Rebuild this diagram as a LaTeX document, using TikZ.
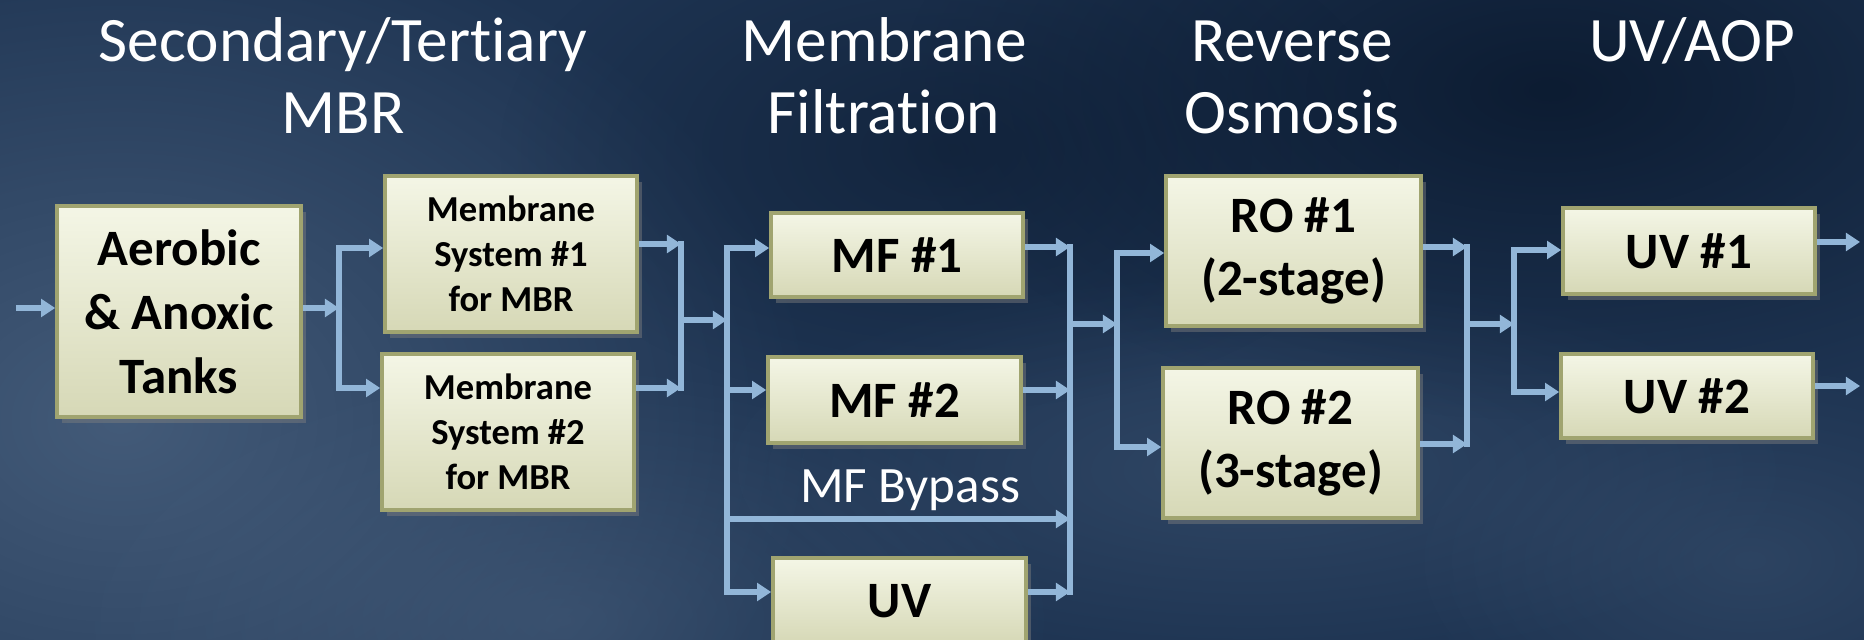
\documentclass[tikz,border=0pt]{standalone}
\usepackage{fontspec}
\setmainfont[Ligatures=NoCommon]{Carlito}
\usetikzlibrary{arrows.meta,shadows,fadings,calc}
\definecolor{conncol}{RGB}{146,182,216}
\definecolor{boxtop}{RGB}{244,246,230}
\definecolor{boxbot}{RGB}{214,216,182}
\definecolor{boxedge}{RGB}{160,164,112}
\definecolor{bgbase}{RGB}{30,52,82}
\definecolor{bglight}{RGB}{80,104,134}
\definecolor{bgdark}{RGB}{8,22,42}
\tikzfading[name=softblob, inner color=transparent!0, outer color=transparent!100]
\begin{document}
\begin{tikzpicture}[x=0.01cm,y=-0.01cm,
  box/.style={draw=boxedge, line width=1pt, top color=boxtop, bottom color=boxbot,
    inner sep=0pt, align=center, font=\bfseries\fontsize{14.5}{18.2}\selectfont,
    drop shadow={shadow xshift=1.4pt,shadow yshift=-1.6pt,opacity=0.45}},
  smallbox/.style={box, font=\bfseries\fontsize{10.4}{12.8}\selectfont},
  robox/.style={box, font=\bfseries\fontsize{14.5}{17.9}\selectfont},
  conn/.style={draw=conncol, line width=1.5pt, -{Triangle[length=4pt,width=5pt]}},
  bus/.style={draw=conncol, line width=1.5pt, line cap=rect},
  title/.style={text=white, align=center, inner sep=0pt, font=\fontsize{18}{20.5}\selectfont},
  label/.style={text=white, inner sep=0pt, font=\fontsize{14.5}{17}\selectfont},
  blob/.style={path fading=softblob}
]
\useasboundingbox (0,0) rectangle (1864,640);
% background
\begin{scope}
\clip (0,0) rectangle (1864,640);
\fill[bgbase] (0,0) rectangle (1864,640);
\fill[bglight, blob, opacity=0.75] (120,420) ellipse (700 and 520);
\fill[bglight, blob, opacity=0.45] (560,620) ellipse (500 and 260);
\fill[bglight, blob, opacity=0.35] (1250,470) ellipse (550 and 200);
\fill[bgdark, blob, opacity=0.8] (1550,90) ellipse (650 and 330);
\fill[bgdark, blob, opacity=0.5] (950,150) ellipse (450 and 260);
\fill[bglight, blob, opacity=0.3] (1750,560) ellipse (350 and 200);
\end{scope}

% titles (base anchor = baseline of last line)
\node[title, anchor=base] (t1) at (343,134) {Secondary/Tertiary\\MBR};
\node[title, anchor=base] (t2) at (884,134) {Membrane\\Filtration};
\node[title, anchor=base] (t3) at (1292,134) {Reverse\\Osmosis};
\node[title, anchor=base] (t4) at (1692,62) {UV/AOP};

% boxes
\node[box, minimum width=2.44cm, minimum height=2.11cm] (A) at (179,311.5) {Aerobic\\\& Anoxic\\Tanks};
\node[smallbox, minimum width=2.52cm, minimum height=1.56cm] (M1) at (511,254) {Membrane\\System \#1\\for MBR};
\node[smallbox, minimum width=2.52cm, minimum height=1.56cm] (M2) at (508,432) {Membrane\\System \#2\\for MBR};
\node[box, minimum width=2.52cm, minimum height=0.84cm] (MF1) at (897,255) {MF \#1};
\node[box, minimum width=2.53cm, minimum height=0.86cm] (MF2) at (894.5,400) {MF \#2};
\node[box, minimum width=2.53cm, minimum height=0.86cm] (UVm) at (899.5,601) {UV};
\node[robox, minimum width=2.55cm, minimum height=1.50cm] (RO1) at (1293.5,251) {RO \#1\\(2-stage)};
\node[robox, minimum width=2.55cm, minimum height=1.50cm] (RO2) at (1290.5,443) {RO \#2\\(3-stage)};
\node[box, minimum width=2.52cm, minimum height=0.86cm] (UV1) at (1689,251) {UV \#1};
\node[box, minimum width=2.52cm, minimum height=0.84cm] (UV2) at (1687,396) {UV \#2};
\node[label, anchor=base] (bp) at (910,502) {MF Bypass};

% junction coordinates
\coordinate (in) at (16,308);
\coordinate (b1t) at (339,248); \coordinate (b1i) at (339,308); \coordinate (b1b) at (339,388);
\coordinate (b2t) at (681,244); \coordinate (b2o) at (681,320); \coordinate (b2b) at (681,388);
\coordinate (b3t) at (727,248); \coordinate (b3i) at (727,320); \coordinate (b3m) at (727,390);
\coordinate (b3p) at (727,519); \coordinate (b3b) at (727,592);
\coordinate (b4t) at (1070,247); \coordinate (b4o) at (1070,324); \coordinate (b4m) at (1070,390);
\coordinate (b4p) at (1070,519); \coordinate (b4b) at (1070,592);
\coordinate (b5t) at (1117,253); \coordinate (b5i) at (1117,324); \coordinate (b5b) at (1117,447);
\coordinate (b6t) at (1467,247); \coordinate (b6o) at (1467,324); \coordinate (b6b) at (1467,444);
\coordinate (b7t) at (1514,250); \coordinate (b7i) at (1514,324); \coordinate (b7b) at (1514,392);
\coordinate (o1) at (1860,242); \coordinate (o2) at (1860,386);

% connectors
\draw[conn] (in) -- (in -| A.west);
\draw[conn] (A.east |- b1i) -- (b1i);
\draw[bus] (b1t) -- (b1b);
\draw[conn] (b1t) -- (b1t -| M1.west);
\draw[conn] (b1b) -- (b1b -| M2.west);
\draw[conn] (M1.east |- b2t) -- (b2t);
\draw[conn] (M2.east |- b2b) -- (b2b);
\draw[bus] (b2t) -- (b2b);
\draw[conn] (b2o) -- (b3i);
\draw[bus] (b3t) -- (b3b);
\draw[conn] (b3t) -- (b3t -| MF1.west);
\draw[conn] (b3m) -- (b3m -| MF2.west);
\draw[conn] (b3p) -- (b4p);
\draw[conn] (b3b) -- (b3b -| UVm.west);
\draw[conn] (MF1.east |- b4t) -- (b4t);
\draw[conn] (MF2.east |- b4m) -- (b4m);
\draw[conn] (UVm.east |- b4b) -- (b4b);
\draw[bus] (b4t) -- (b4b);
\draw[conn] (b4o) -- (b5i);
\draw[bus] (b5t) -- (b5b);
\draw[conn] (b5t) -- (b5t -| RO1.west);
\draw[conn] (b5b) -- (b5b -| RO2.west);
\draw[conn] (RO1.east |- b6t) -- (b6t);
\draw[conn] (RO2.east |- b6b) -- (b6b);
\draw[bus] (b6t) -- (b6b);
\draw[conn] (b6o) -- (b7i);
\draw[bus] (b7t) -- (b7b);
\draw[conn] (b7t) -- (b7t -| UV1.west);
\draw[conn] (b7b) -- (b7b -| UV2.west);
\draw[conn] (UV1.east |- o1) -- (o1);
\draw[conn] (UV2.east |- o2) -- (o2);
\end{tikzpicture}
\end{document}
